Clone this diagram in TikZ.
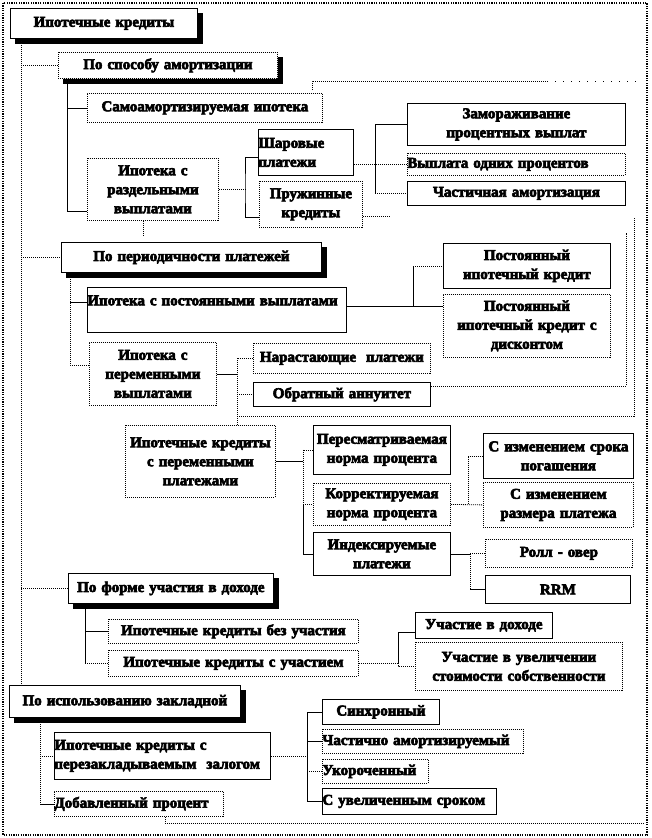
\documentclass[tikz,border=0pt]{standalone}
\usepackage{fontspec}
\setmainfont{Liberation Serif}
\newfontfamily\hv{Liberation Serif}[UprightFont={* Bold},UprightFeatures={FakeBold=4}]
\newcommand\bx[7]{\node[box,#1,anchor=north west,minimum width=#5pt,minimum height=#6pt,text width=#5pt] (#2) at (#3,#4) {#7};}
\newcommand\shdw[1]{\fill[black] ([yshift=-5pt]#1.north east) -- ([xshift=5pt,yshift=-5pt]#1.north east) -- ([xshift=5pt,yshift=-5pt]#1.south east) -- ([xshift=5pt,yshift=-5pt]#1.south west) -- ([xshift=5pt]#1.south west) -- (#1.south east) -- cycle;}
\begin{document}
\begin{tikzpicture}[x=1pt,y=-1pt,
  box/.style={draw,line width=0.8pt,fill=white,inner xsep=0pt,inner ysep=0pt,
    font=\hv\fontsize{15}{19}\selectfont,align=center},
  dot/.style={dash pattern=on 1pt off 1pt},
  shd/.style={},
  lft/.style={align=left},
  ln/.style={line width=0.8pt},
  dln/.style={line width=0.8pt,dash pattern=on 1pt off 1pt}]
\useasboundingbox (0,0) rectangle (651,838);
\fill[white] (0,0) rectangle (651,838);
% nodes
\bx{shd}{A}{10}{8}{187}{30}{Ипотечные кредиты}
\bx{shd,dot}{B}{58}{52}{219}{26}{По способу амортизации}
\bx{dot}{B1}{87}{93}{235}{29}{Самоамортизируемая ипотека}
\bx{dot}{B2}{87}{158}{131}{62}{Ипотека с\\раздельными\\выплатами}
\bx{lft}{B21}{258}{129}{95}{46}{Шаровые\\платежи}
\bx{dot}{B22}{259}{181}{103}{46}{Пружинные\\кредиты}
\bx{}{B3a}{407}{103}{218}{42}{Замораживание\\процентных выплат}
\bx{dot,lft}{B3b}{407}{153}{218}{22}{Выплата одних процентов}
\bx{}{B3c}{407}{181}{218}{24}{Частичная амортизация}
\bx{shd}{C}{61}{242}{260}{30}{По периодичности платежей}
\bx{lft}{C1}{87}{287}{259}{45}{Ипотека с постоянными выплатами\\\mbox{}}
\bx{}{C11}{443}{243}{167}{45}{Постоянный\\ипотечный кредит}
\bx{dot}{C12}{443}{294}{167}{63}{Постоянный\\ипотечный кредит с\\дисконтом}
\bx{dot}{C2}{89}{342}{127}{63}{Ипотека с\\переменными\\выплатами}
\bx{dot}{C21}{253}{343}{177}{30}{Нарастающие\ \ платежи}
\bx{}{C22}{253}{382}{177}{24}{Обратный аннуитет}
\bx{dot}{D}{125}{425}{150}{72}{Ипотечные кредиты\\с переменными\\платежами}
\bx{}{D1}{313}{425}{137}{49}{Пересматриваемая\\норма процента}
\bx{dot}{D2}{313}{483}{137}{42}{Корректируемая\\норма процента}
\bx{}{D3}{313}{532}{137}{43}{Индексируемые\\платежи}
\bx{}{D21}{483}{433}{150}{45}{С изменением срока\\погашения}
\bx{dot}{D22}{483}{482}{150}{45}{С изменением\\размера платежа}
\bx{dot}{D31}{485}{539}{147}{28}{Ролл - овер}
\bx{}{D32}{485}{575}{145}{28}{RRM}
\bx{shd}{F}{68}{573}{205}{30}{По форме участия в доходе}
\bx{dot}{F1}{108}{619}{250}{24}{Ипотечные кредиты без участия}
\bx{dot}{F2}{108}{650}{250}{26}{Ипотечные кредиты с участием}
\bx{}{F21}{415}{612}{137}{26}{Участие в доходе}
\bx{dot}{F22}{415}{642}{207}{48}{Участие в увеличении\\стоимости собственности}
\bx{shd}{E}{9}{685}{231}{32}{По использованию закладной}
\bx{lft}{E1}{54}{732}{216}{47}{Ипотечные кредиты с\\перезакладываемым\ \ залогом}
\bx{dot,lft}{E2}{54}{791}{169}{25}{Добавленный процент}
\bx{}{E11}{322}{699}{117}{25}{Синхронный}
\bx{dot,lft}{E12}{322}{729}{201}{24}{Частично амортизируемый}
\bx{dot,lft}{E13}{322}{759}{106}{24}{Укороченный}
\bx{lft}{E14}{322}{788}{174}{26}{С увеличенным сроком}
% shadows
\shdw{A}\shdw{B}\shdw{C}\shdw{F}\shdw{E}
% trunk
\coordinate (t) at (21,0);
\draw[dln] (t |- A.south) -- (t |- E.north);
\draw[dln] (t |- B.west) -- (B.west);
\draw[dln] (t |- C.west) -- (C.west);
\draw[dln] (t |- F.west) -- (F.west);
% B group
\coordinate (b) at (67,0);
\draw[ln] (b |- B.south) |- (B1.west);
\draw[ln] (b |- B1.west) -- (b |- 0,211) -- (B2.west |- 0,211);
\coordinate (c) at (245,0);
\draw[dln] (B2.east) -- (c |- B2.east);
\draw[ln] (B21.west |- 0,157) -| (c |- B2.east) |- (B22.west |- 0,217);
\coordinate (d) at (375,0);
\draw[dln] (B21.east |- B3b.west) -- (B3b.west);
\draw[ln] (B3a.west) -| (d |- B3c.west);
\draw[dln] (d |- B3c.west) -- (B3c.west);
\coordinate (s1) at (143,235);
\draw[dln] (s1 |- B2.south) -- (s1);
\coordinate (s2) at (390,216);
\draw[dln] (B22.east |- s2) -- (s2);
\draw[dln] (312,90) -- (312,81) -- (547,81);
\draw[line width=0.8pt,dash pattern=on 1pt off 7pt] (547,81) -- (643,81);
% C group
\coordinate (e) at (70,0);
\draw[dln] (e |- C.south) |- (C2.west |- 0,365);
\draw[ln] (e |- 0,302) -- (C1.west |- 0,302);
\coordinate (f) at (413,0);
\draw[ln] (C1.east |- 0,306) -- (C12.west |- 0,306);
\draw[ln] (f |- 0,306) -- (f |- C11.west);
\draw[dln] (f |- C11.west) -- (C11.west);
\coordinate (g) at (237,0);
\draw[ln] (C2.east) -- (g |- C2.east);
\draw[dln] (C21.west) -| (g |- D.north);
\draw[dln] (g |- C22.west) -- (C22.west);
\draw[dln] (C22.east |- 0,386) -- (626,386) -- (626,233);
\draw[dln] (g |- 0,416) -- (634,416) -- (634,218);
% D group
\coordinate (h) at (303,0);
\draw[ln] (D.east) -- (h |- D.east);
\draw[dln] (D1.west) -| (h |- D2.west);
\draw[ln] (h |- D2.west) |- (D3.west);
\draw[dln] (h |- D2.west) -- (D2.west);
\coordinate (i) at (468,0);
\draw[dln] (D2.east) -- (D22.west);
\draw[dln] (i |- D2.east) |- (D21.west);
\coordinate (j) at (470,0);
\draw[ln] (D3.east) -- (j |- D3.east);
\draw[dln] (j |- D3.east) -- (j |- D32.west);
\draw[ln] (j |- D32.west) -- (D32.west);
\draw[dln] (j |- D31.west) -- (D31.west);
% F group
\coordinate (k) at (85,0);
\draw[ln] (k |- F.south) |- (F1.west);
\draw[ln] (k |- F1.west) -- (k |- F2.west);
\draw[dln] (k |- F2.west) -- (F2.west);
\coordinate (l) at (398,0);
\draw[dln] (F2.east) -- (l |- F2.east);
\draw[ln] (F21.west |- 0,632) -| (l |- F2.east);
\draw[dln] (l |- F2.east) |- (F22.west);
% E group
\coordinate (m) at (40,0);
\draw[dln] (m |- E.south) |- (E1.west);
\draw[dln] (m |- E1.west) -- (m |- E2.west);
\draw[ln] (m |- E2.west) -- (E2.west);
\coordinate (n) at (307,0);
\draw[dln] (E1.east) -- (n |- E1.east);
\draw[ln] (E11.west) -| (n |- E14.west) -- (E14.west);
\draw[ln] (n |- E12.west) -- (E12.west);
\draw[dln] (n |- E13.west) -- (E13.west);
\coordinate (o) at (165,823);
\draw[dln] (o |- E2.south) -- (o) -- (643,823);
% frame
\draw[line width=2.4pt,dash pattern=on 1.2pt off 1.2pt] (3,3) rectangle (647,835);
\end{tikzpicture}
\end{document}
